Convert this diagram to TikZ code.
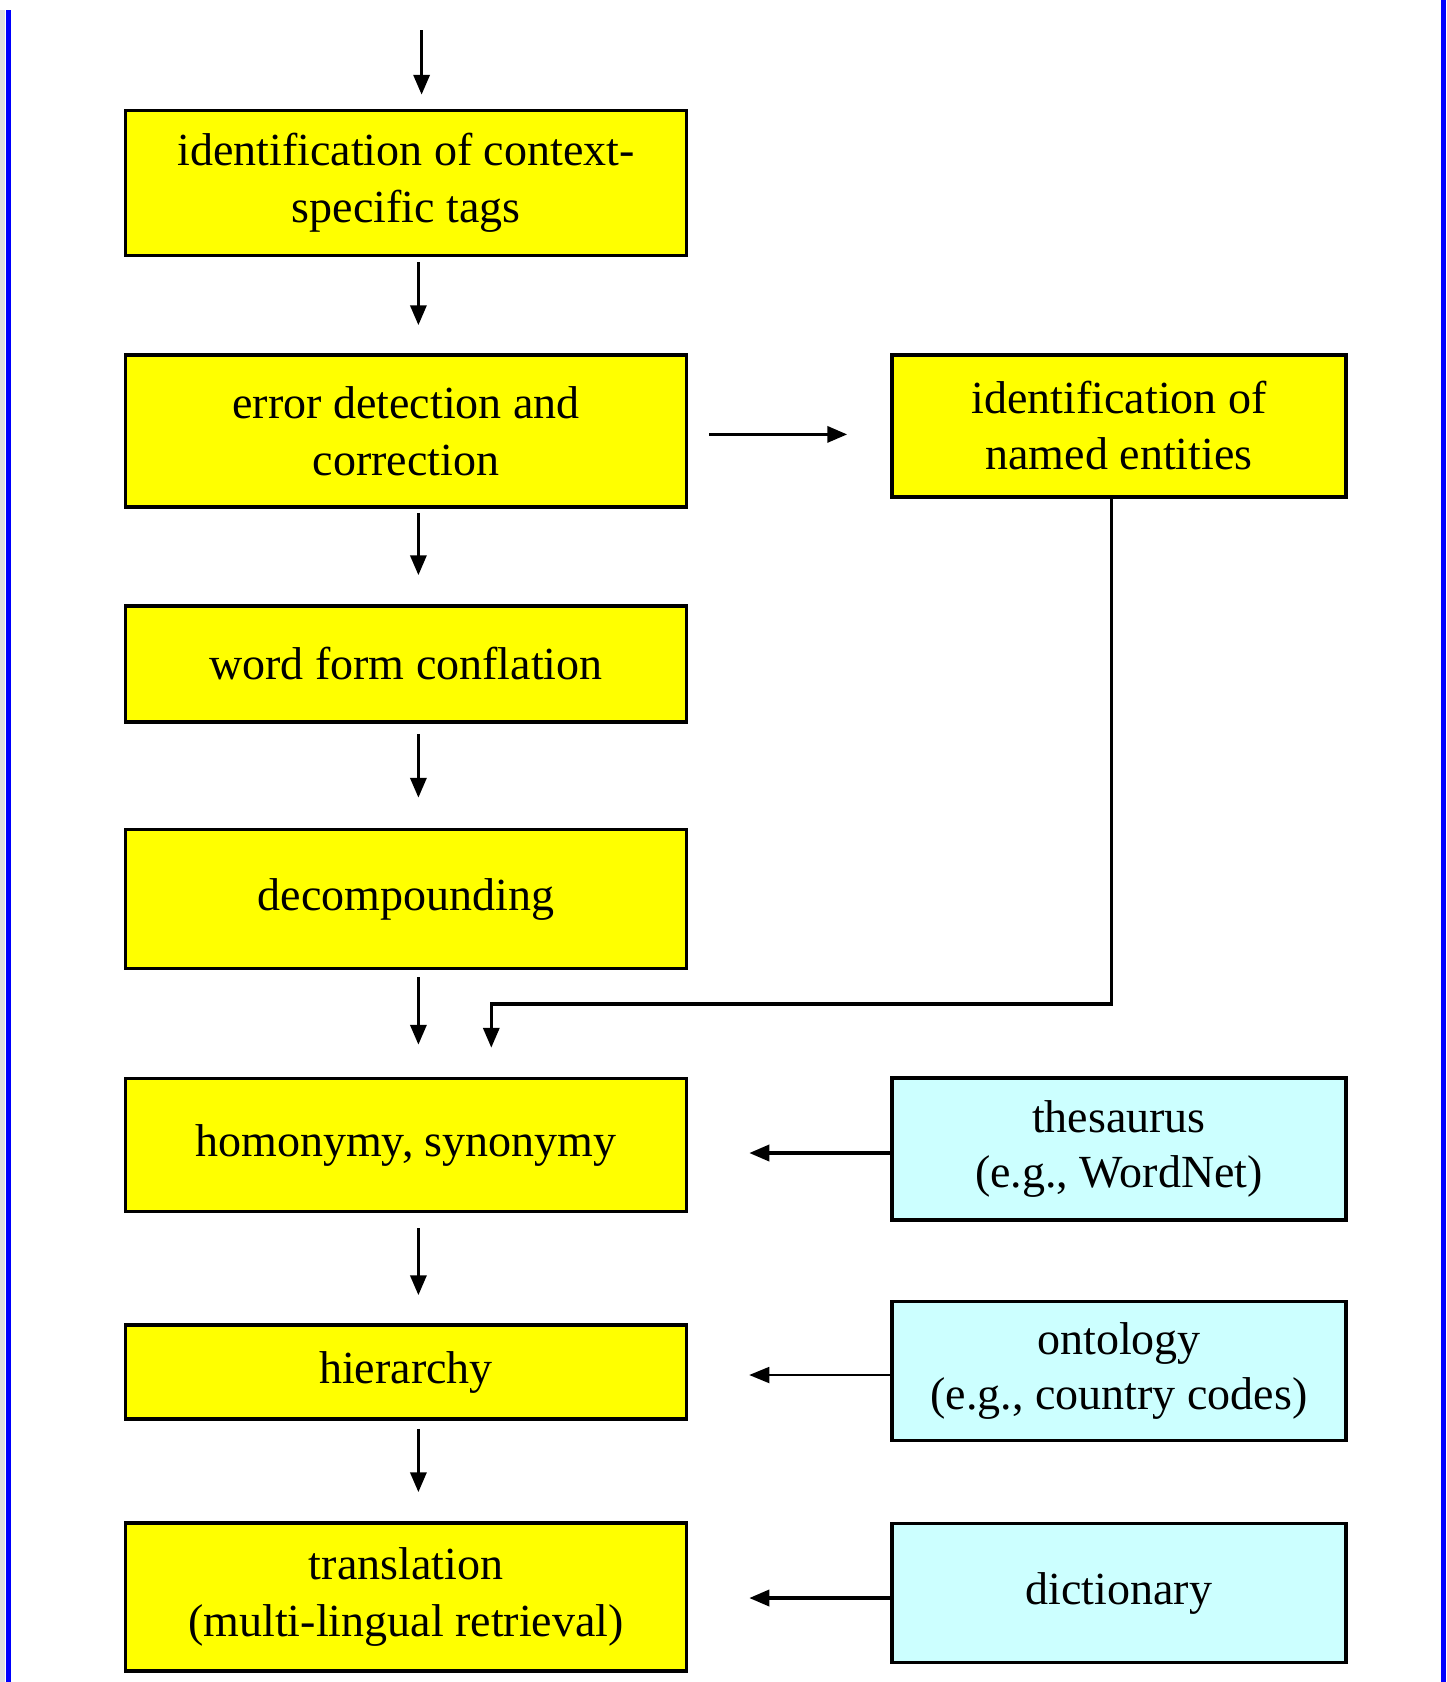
\documentclass[tikz,border=0pt]{standalone}
\usepackage{fontspec}
\setmainfont{Liberation Serif}
\usetikzlibrary{arrows.meta}
\definecolor{stepyellow}{RGB}{255,255,0}
\definecolor{srccyan}{RGB}{204,255,255}
\definecolor{rim}{RGB}{0,0,255}

\tikzset{
  stepbox/.style={draw, line width=3.5pt, fill=stepyellow, align=center, inner sep=0pt,
    font=\fontsize{46}{57}\selectfont, minimum width=561pt},
  srcbox/.style={draw, line width=3.5pt, fill=srccyan, align=center, inner sep=0pt,
    font=\fontsize{46}{55}\selectfont, minimum width=454pt},
  arr/.style={line width=3.5pt, -{Triangle[length=20pt,width=16pt]}}
}

\begin{document}
\begin{tikzpicture}[x=1pt,y=-1pt]
\useasboundingbox (0,0) rectangle (1447,1682);
\fill [gray!25] (0,10) rectangle (5,1682);
\draw [rim, line width=5pt] (8,10)--(8,1682);
\draw [rim, line width=5pt] (1443,0)--(1443,1682);

% main chain
\node [stepbox, minimum height=145pt] (ctx) at (406,183) {identification of context-\\specific tags};
\node [stepbox, minimum height=152pt] (err) at (406,431) {error detection and\\correction};
\node [stepbox, minimum height=116pt] (wff) at (406,664) {word form conflation};
\node [stepbox, minimum height=139pt] (dec) at (406,899) {decompounding};
\node [stepbox, minimum height=133pt] (hom) at (406,1145) {homonymy, synonymy};
\node [stepbox, minimum height=94pt] (hier) at (406,1372) {hierarchy};
\node [stepbox, minimum height=148pt] (trans) at (406,1597) {translation\\(multi-lingual retrieval)};

% side boxes
\node [stepbox, minimum width=454pt, minimum height=142pt,
  font=\fontsize{46}{56}\selectfont] (named) at (1119,426) {identification of\\named entities};
\node [srcbox, minimum height=142pt] (thes) at (1119,1149) {thesaurus\\(e.g., WordNet)};
\node [srcbox, minimum height=139pt] (onto) at (1119,1371) {ontology\\(e.g., country codes)};
\node [srcbox, minimum height=139pt] (dict) at (1119,1593) {dictionary};

\coordinate (start) at (421.6,30);
\coordinate (join) at (491.3,1004);

\draw [arr, shorten >=14pt] (start) -- ([xshift=15.6pt]ctx.north);
\draw [arr, shorten <=5pt, shorten >=28pt] ([xshift=12.4pt]ctx.south) -- ([xshift=12.4pt]err.north);
\draw [arr, shorten <=4pt, shorten >=29pt] ([xshift=12.4pt]err.south) -- ([xshift=12.4pt]wff.north);
\draw [arr, shorten <=10pt, shorten >=30pt] ([xshift=12.4pt]wff.south) -- ([xshift=12.4pt]dec.north);
\draw [arr, shorten <=7pt, shorten >=32pt] ([xshift=12.4pt]dec.south) -- ([xshift=12.4pt]hom.north);
\draw [arr, shorten <=15pt, shorten >=28pt] ([xshift=12.4pt]hom.south) -- ([xshift=12.4pt]hier.north);
\draw [arr, shorten <=8pt, shorten >=29pt] ([xshift=12.4pt]hier.south) -- ([xshift=12.4pt]trans.north);

\draw [arr, shorten <=21pt, shorten >=43pt] ([yshift=-3.4pt]err.east) -- ([yshift=-8.4pt]named.west);
\draw [arr, shorten >=29pt] ([xshift=-7.7pt]named.south) |- (join) -- ([xshift=85.3pt]hom.north);

\draw [arr, shorten >=61pt] ([yshift=-4pt]thes.west) -- ([yshift=-8pt]hom.east);
\draw [line width=1.8pt, -{Triangle[length=20pt,width=16pt]}, shorten >=61pt] ([yshift=-4pt]onto.west) -- ([yshift=-3pt]hier.east);
\draw [arr, shorten >=61pt] ([yshift=-5pt]dict.west) -- ([yshift=-1pt]trans.east);
\end{tikzpicture}
\end{document}
